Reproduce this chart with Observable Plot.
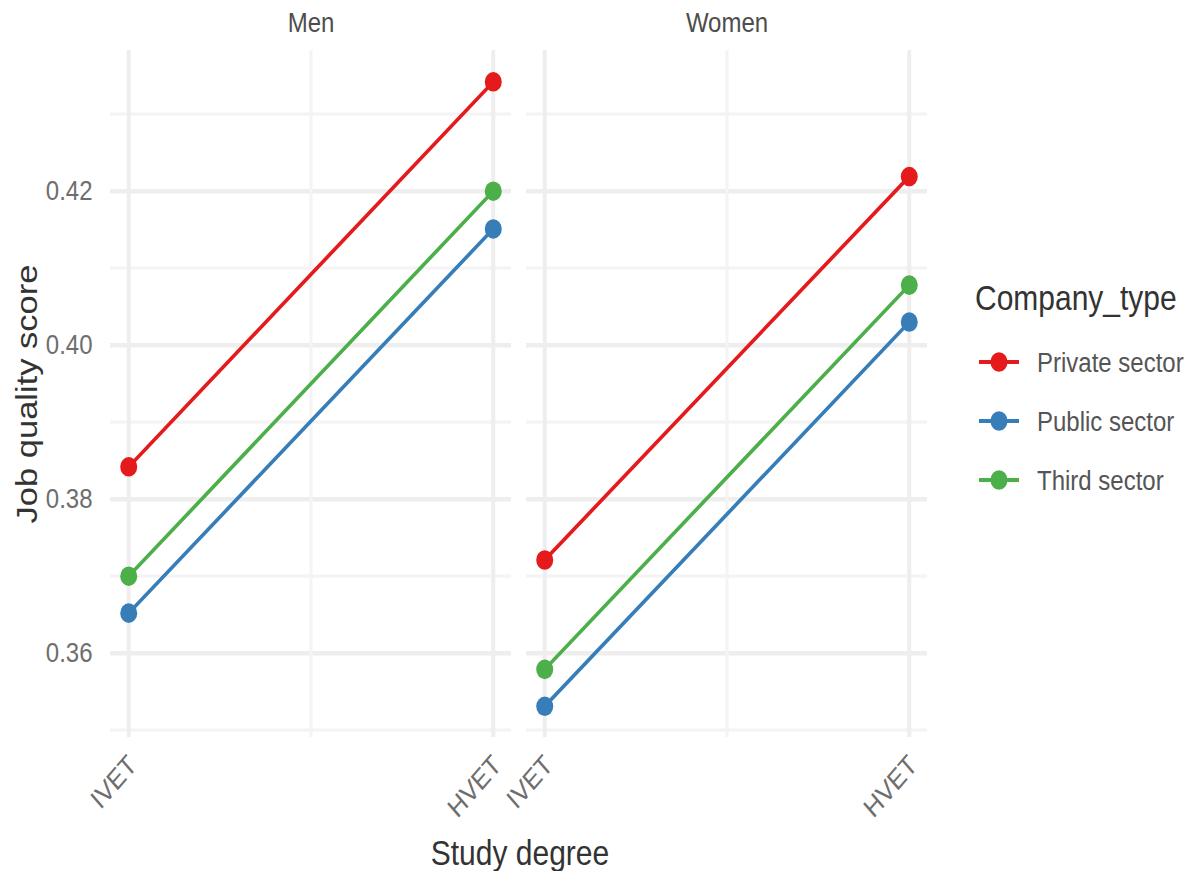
<!DOCTYPE html>
<html><head><meta charset="utf-8">
<script src="https://cdn.jsdelivr.net/npm/d3@7"></script>
<script src="https://cdn.jsdelivr.net/npm/@observablehq/plot@0.6"></script>
<style>
html,body{margin:0;padding:0;background:#fff;overflow:hidden;}
#wrap{position:relative;width:1191px;height:871px;overflow:hidden;}
</style></head><body><div id="wrap"></div>
<script>
const sexes = ["Men", "Women"];
const degrees = ["IVET", "HVET"];
const companyTypes = ["Private sector", "Public sector", "Third sector"];
const colors = ["#E41A1C", "#377EB8", "#4DAF4A"];
// values per company type (Private, Public, Third)
const menIVET = [0.3842, 0.3652, 0.3700];
const menHVET = [0.4342, 0.4151, 0.4200];
const womenIVET = [0.3721, 0.3531, 0.3579];
const womenHVET = [0.4219, 0.4030, 0.4078];
const yTicks = [0.36, 0.38, 0.40, 0.42];
const yMinor = [0.35, 0.37, 0.39, 0.41, 0.43];

const series = {Men: [menIVET, menHVET], Women: [womenIVET, womenHVET]};
const data = [];
for (const s of sexes)
  companyTypes.forEach((c, i) =>
    degrees.forEach((d, j) =>
      data.push({sex: s, type: c, degree: d, xi: j + 1, score: series[s][j][i]})));

// the picture is stretched vertically; draw in an internal frame and stretch it
const W = 1191, H = 871, IH = 757, S = H / IH;
const font = "'Liberation Sans', Arial, sans-serif";
const small = 24, big = 30;

const plot = Plot.plot({
  width: W, height: IH,
  marginLeft: 110, marginRight: 263, marginTop: 50 / S, marginBottom: IH - 737 / S,
  style: {fontFamily: font, background: "#fff", overflow: "visible"},
  fx: {domain: sexes, paddingInner: 0.036, paddingOuter: 0, axis: null, label: null},
  x: {domain: [0.95, 2.05], axis: null},
  y: {domain: [0.34904, 0.43826], axis: null},
  color: {domain: companyTypes, range: colors},
  marks: [
    Plot.gridY(yMinor, {stroke: "#f4f4f4", strokeOpacity: 1, strokeWidth: 2.8}),
    Plot.gridY(yTicks, {stroke: "#eeeeee", strokeOpacity: 1, strokeWidth: 4}),
    Plot.gridX([1.5], {stroke: "#f4f4f4", strokeOpacity: 1, strokeWidth: 3}),
    Plot.gridX([1, 2], {stroke: "#eeeeee", strokeOpacity: 1, strokeWidth: 4}),
    Plot.line(data, {fx: "sex", x: "xi", y: "score", z: "type", stroke: "type", strokeWidth: 3.4}),
    Plot.dot(data, {fx: "sex", x: "xi", y: "score", fill: "type", r: 8.5}),
    Plot.axisY(yTicks, {tickSize: 0, tickPadding: 18, tickFormat: d3.format(".2f"), fontSize: small, fill: "#6e6e6e", label: null}),
    Plot.axisX([1, 2], {tickSize: 0, tickPadding: 20, dx: 4, tickRotate: -45, tickFormat: d => degrees[d - 1], fontSize: small, fill: "#6e6e6e", label: null}),
    Plot.text(sexes, {fx: d => d, text: d => d, frameAnchor: "top", lineAnchor: "middle", dy: 23 / S - 50 / S, fontSize: small, fill: "#4d4d4d"})
  ]
});
plot.setAttribute("preserveAspectRatio", "none");
plot.setAttribute("height", H);
plot.style.height = H + "px";
plot.style.width = W + "px";
plot.style.maxWidth = "none";
document.getElementById("wrap").appendChild(plot);

// axis titles and legend, drawn in the same stretched frame
const svg = d3.select(plot).append("g").style("font-family", font).attr("text-anchor", "start");
svg.append("text").attr("transform", `translate(27,${394 / S}) rotate(-90)`)
  .attr("text-anchor", "middle").attr("dominant-baseline", "central")
  .attr("font-size", big).attr("fill", "#333").text("Job quality score");
svg.append("text").attr("x", 520).attr("y", 853 / S)
  .attr("text-anchor", "middle").attr("dominant-baseline", "central")
  .attr("font-size", big).attr("fill", "#333").text("Study degree");
svg.append("text").attr("x", 975).attr("y", 298 / S)
  .attr("text-anchor", "start").attr("dominant-baseline", "central")
  .attr("font-size", big).attr("fill", "#333").text("Company_type");
companyTypes.forEach((c, i) => {
  const y = (362 + i * 59) / S;
  svg.append("line").attr("x1", 979).attr("x2", 1019).attr("y1", y).attr("y2", y)
    .attr("stroke", colors[i]).attr("stroke-width", 3.4);
  svg.append("circle").attr("cx", 999).attr("cy", y).attr("r", 8.5).attr("fill", colors[i]);
  svg.append("text").attr("x", 1037).attr("y", y)
    .attr("text-anchor", "start").attr("dominant-baseline", "central")
    .attr("font-size", small).attr("fill", "#555").text(c);
});
</script></body></html>
